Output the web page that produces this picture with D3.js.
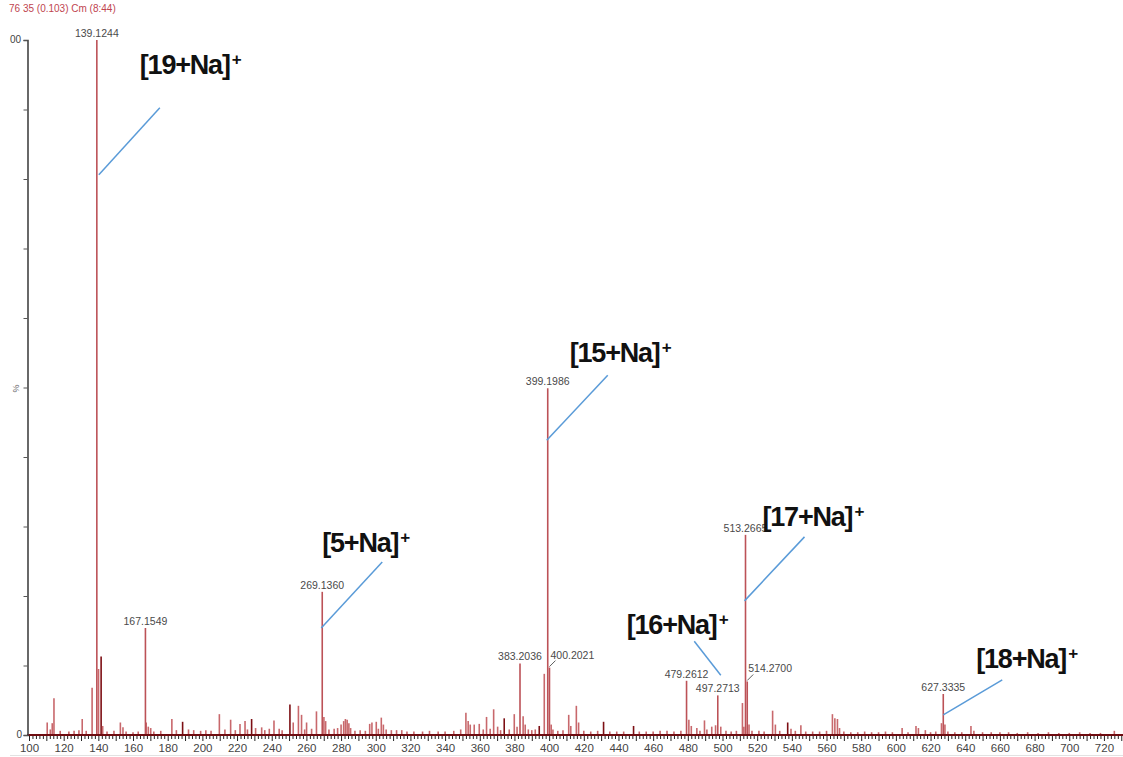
<!DOCTYPE html>
<html>
<head>
<meta charset="utf-8">
<script src="https://cdn.jsdelivr.net/npm/d3@7"></script>
<style>
  html, body { margin: 0; padding: 0; background: #fff; }
  svg { display: block; font-family: Arial, "Liberation Sans", sans-serif; }
</style>
</head>
<body>
<svg id="chart" width="1123" height="757"></svg>
<script>
// labelled peaks (m/z, relative intensity %)
var labelMz = [139.1244, 167.1549, 269.1360, 383.2036, 399.1986, 400.2021, 479.2612, 497.2713, 513.2665, 514.2700, 627.3335];
var labelPct = [100, 15.4, 20.6, 10.3, 49.9, 9.7, 7.8, 5.7, 28.8, 7.7, 5.9];
var leaderMz = [400.2021, 514.2700];

// unlabelled peaks
var minorMz = [110.5, 112.3, 113.4, 114.4, 118, 123, 126, 128.8, 130.7, 133, 136.4, 140.1, 141.6, 142.5, 145, 149,
  152.7, 154.2, 156, 160, 163, 167.6, 168.8, 170.2, 172, 176, 182.4, 185, 188.6, 192, 195, 199, 202, 205, 209.8,
  213, 216.3, 219, 221.7, 224.6, 226, 228.4, 230.7, 234.2, 236, 238.6, 241.3, 244.3, 246, 250.5, 252.4, 255.4,
  257.2, 259, 260.1, 263, 265.8, 270.1, 271.1, 273, 276, 278, 280, 281.5, 282.5, 283.5, 284.5, 285.5, 288, 291,
  294, 296.5, 297.8, 300.3, 301.5, 303.2, 304.4, 306, 309, 312, 315, 318, 322, 327, 331, 336, 340, 345, 349, 352,
  353.3, 354.5, 356.8, 359.7, 362, 363.9, 366, 368, 370.3, 372, 374.1, 377, 379.9, 381.5, 385, 386.2, 388, 390,
  392, 394.3, 397.2, 401.2, 402.2, 405, 408, 411.3, 412.5, 415.7, 417, 420, 424, 428, 431.4, 435, 439, 443, 448.7,
  452, 456, 460, 464, 468, 472, 476, 480.6, 482, 485.2, 487, 489.6, 491, 493.8, 496, 499, 502, 505, 508, 511.5,
  512.3, 515.3, 517, 521, 524, 528.9, 530.5, 533, 537.6, 539.5, 542, 545.2, 548, 552, 556, 560, 563.4, 564.8,
  566.3, 567.5, 570, 574, 578, 582, 586, 590, 594, 598, 603.6, 607, 611.6, 613, 617, 620, 623, 626.3, 628.3, 630,
  634, 638, 643.3, 645, 650, 655, 660, 665, 670, 676, 682, 688, 694, 700, 706, 712, 718, 726];
var minorPct = [1.8, 0.8, 1.7, 5.3, 0.6, 0.5, 0.6, 0.7, 2.3, 0.6, 6.8, 9.5, 11.3, 1.3, 0.5, 0.6,
  1.8, 1.1, 0.5, 0.4, 0.5, 1.8, 1.2, 1.0, 0.5, 0.6, 2.3, 0.7, 1.9, 0.8, 0.7, 0.6, 0.7, 0.6, 3.0,
  0.8, 2.2, 0.7, 1.6, 2.0, 0.8, 2.3, 1.0, 1.1, 0.7, 0.9, 2.1, 0.9, 0.7, 4.4, 1.8, 4.2,
  2.9, 0.8, 1.8, 0.9, 3.4, 2.6, 2.0, 0.8, 0.9, 1.0, 1.5, 2.0, 2.3, 2.2, 1.7, 1.0, 0.6, 0.7,
  0.6, 1.6, 1.8, 1.9, 0.9, 2.5, 1.5, 0.8, 0.7, 0.7, 0.7, 0.5, 0.5, 0.5, 0.6, 0.5, 0.5, 0.6, 0.8, 3.2,
  2.0, 1.5, 1.5, 1.6, 0.8, 2.6, 0.9, 3.7, 1.2, 0.7, 2.4, 0.8, 3.0, 1.2, 2.7, 1.5, 0.8, 0.7,
  0.8, 1.3, 8.8, 1.5, 0.8, 0.6, 0.7, 2.9, 1.3, 4.2, 1.8, 0.6, 0.5, 0.6, 1.9, 0.5, 0.5, 0.5, 1.3,
  0.5, 0.5, 0.5, 0.6, 0.6, 0.5, 0.6, 2.2, 1.3, 1.0, 0.6, 2.1, 0.8, 1.2, 1.4, 1.2, 0.6, 0.5, 0.6, 4.6,
  1.2, 1.5, 0.6, 0.6, 0.5, 3.5, 1.5, 0.6, 1.8, 0.9, 0.6, 1.4, 0.5, 0.5, 0.5, 0.6, 3.0, 2.4,
  2.3, 1.0, 0.5, 0.4, 0.4, 0.5, 0.4, 0.4, 0.5, 0.4, 1.0, 0.4, 1.3, 1.0, 0.7, 0.4, 0.5, 1.7, 1.5, 0.5,
  0.4, 0.4, 1.3, 0.6, 0.4, 0.4, 0.4, 0.4, 0.3, 0.4, 0.3, 0.4, 0.3, 0.3, 0.4, 0.3, 0.3, 0.6];
var darkMz = [141.6, 188.6, 228.4, 250.5, 374.1, 394.3, 431.4, 448.7, 537.6];

// assignments
var annNames = ["19", "5", "15", "16", "17", "18"];
var annMz = [139.1244, 269.1360, 399.1986, 497.2713, 513.2665, 627.3335];

var xTicks = d3.range(100, 731, 2);
var yTicks = d3.range(0, 101, 10);
var title = "76 35 (0.103) Cm (8:44)";

var W = 1123, H = 757;
var svg = d3.select('#chart');
svg.append('rect').attr('width', W).attr('height', H).attr('fill', '#fff');

var x = d3.scaleLinear().domain([100, 731]).range([29, 1123]);
var y = d3.scaleLinear().domain([0, 100]).range([735, 40]);

// title
svg.append('text').attr('x', 9).attr('y', 12)
    .attr('font-size', 10).attr('fill', '#c0454f').text(title);

// faint line under the axis labels
svg.append('line').attr('x1', 10).attr('x2', W).attr('y1', 755.5).attr('y2', 755.5)
    .attr('stroke', '#e2e2e2');

// minor peaks
var minor = minorMz.map(function(m, i) { return {mz: m, pct: minorPct[i]}; });
svg.append('g').selectAll('line').data(minor).enter().append('line')
    .attr('x1', function(d) { return x(d.mz); })
    .attr('x2', function(d) { return x(d.mz); })
    .attr('y1', y(0))
    .attr('y2', function(d) { return y(d.pct); })
    .attr('stroke', function(d) { return darkMz.indexOf(d.mz) >= 0 ? '#7d0f14' : '#c8686c'; })
    .attr('stroke-width', 1.6);

// labelled peaks
var peaks = labelMz.map(function(m, i) { return {mz: m, pct: labelPct[i]}; });
svg.append('g').selectAll('line').data(peaks).enter().append('line')
    .attr('x1', function(d) { return x(d.mz); })
    .attr('x2', function(d) { return x(d.mz); })
    .attr('y1', y(0))
    .attr('y2', function(d) { return y(d.pct); })
    .attr('stroke', '#bc5257')
    .attr('stroke-width', 1.6);

var lab = svg.append('g').attr('font-size', 10.5).attr('fill', '#4a4a4a');
peaks.forEach(function(d) {
  var px = x(d.mz), py = y(d.pct);
  if (leaderMz.indexOf(d.mz) >= 0) {
    svg.append('line').attr('x1', px).attr('y1', py - 1).attr('x2', px + 6).attr('y2', py - 7)
        .attr('stroke', '#333').attr('stroke-width', 0.8);
    lab.append('text').attr('x', px + 1).attr('y', py - 9).text(d.mz.toFixed(4));
  } else {
    lab.append('text').attr('x', px).attr('y', py - 3).attr('text-anchor', 'middle').text(d.mz.toFixed(4));
  }
});

// x axis
var xAxis = svg.append('g').attr('transform', 'translate(0,' + y(0) + ')')
    .call(d3.axisBottom(x).tickValues(xTicks).tickSize(4)
      .tickFormat(function(d) { return d % 20 === 0 ? d : ''; }));
xAxis.select('.domain').remove();
xAxis.selectAll('.tick line').attr('stroke', '#222')
    .attr('y2', function(d) { return d % 10 === 0 ? 6 : 4; });
xAxis.selectAll('.tick text').attr('font-size', 11.5).attr('fill', '#444')
    .attr('font-family', 'Arial, "Liberation Sans", sans-serif').attr('dy', '0.85em');
svg.append('line').attr('x1', 27).attr('x2', W).attr('y1', y(0)).attr('y2', y(0))
    .attr('stroke', '#6e0c10').attr('stroke-width', 2);

// y axis
var yAxis = svg.append('g').attr('transform', 'translate(27.5,0)')
    .call(d3.axisLeft(y).tickValues(yTicks).tickSize(4).tickFormat(''));
yAxis.select('.domain').attr('stroke', '#444').attr('stroke-width', 1.6);
yAxis.selectAll('.tick line').attr('stroke', '#555');
svg.append('text').attr('x', 22).attr('y', y(0) + 3).attr('text-anchor', 'end')
    .attr('font-size', 10).attr('fill', '#444').text('0');
svg.append('text').attr('x', 21).attr('y', y(100) + 3).attr('text-anchor', 'end')
    .attr('font-size', 10).attr('fill', '#444').text('00');
svg.append('text').attr('transform', 'translate(19,' + (y(50) + 1) + ') rotate(-90)')
    .attr('text-anchor', 'middle').attr('font-size', 9).attr('fill', '#666').text('%');

// assignment call-outs: start on the peak at pct, then line offset and text offset
var annLayout = [
  {pct: 80.6, sx: 2, dx: 61, dy: -67, tx: -20, ty: -34},
  {pct: 15.4, sx: -1, dx: 61, dy: -66, tx: -60, ty: -10},
  {pct: 42.4, sx: -1, dx: 61, dy: -65, tx: -38, ty: -13},
  {pct: 8.6, sx: 3, dx: -26.5, dy: -34, tx: -67.5, ty: -7},
  {pct: 19.3, sx: -1, dx: 60, dy: -64, tx: -42, ty: -11},
  {pct: 2.9, sx: 0, dx: 59, dy: -35, tx: -26, ty: -12}
];
annNames.forEach(function(n, i) {
  var L = annLayout[i];
  var x0 = x(annMz[i]) + L.sx, y0 = y(L.pct);
  var x1 = x0 + L.dx, y1 = y0 + L.dy;
  svg.append('line').attr('x1', x0).attr('y1', y0).attr('x2', x1).attr('y2', y1)
      .attr('stroke', '#5a9bd8').attr('stroke-width', 1.5);
  var t = svg.append('text').attr('x', x1 + L.tx).attr('y', y1 + L.ty)
      .attr('font-size', 27).attr('font-weight', 'bold').attr('fill', '#111')
      .attr('letter-spacing', -1.2);
  t.append('tspan').text('[' + n + '+Na]');
  t.append('tspan').attr('font-size', 17).attr('dy', -9).attr('dx', 2).attr('letter-spacing', 0).text('+');
});
</script>
</body>
</html>
